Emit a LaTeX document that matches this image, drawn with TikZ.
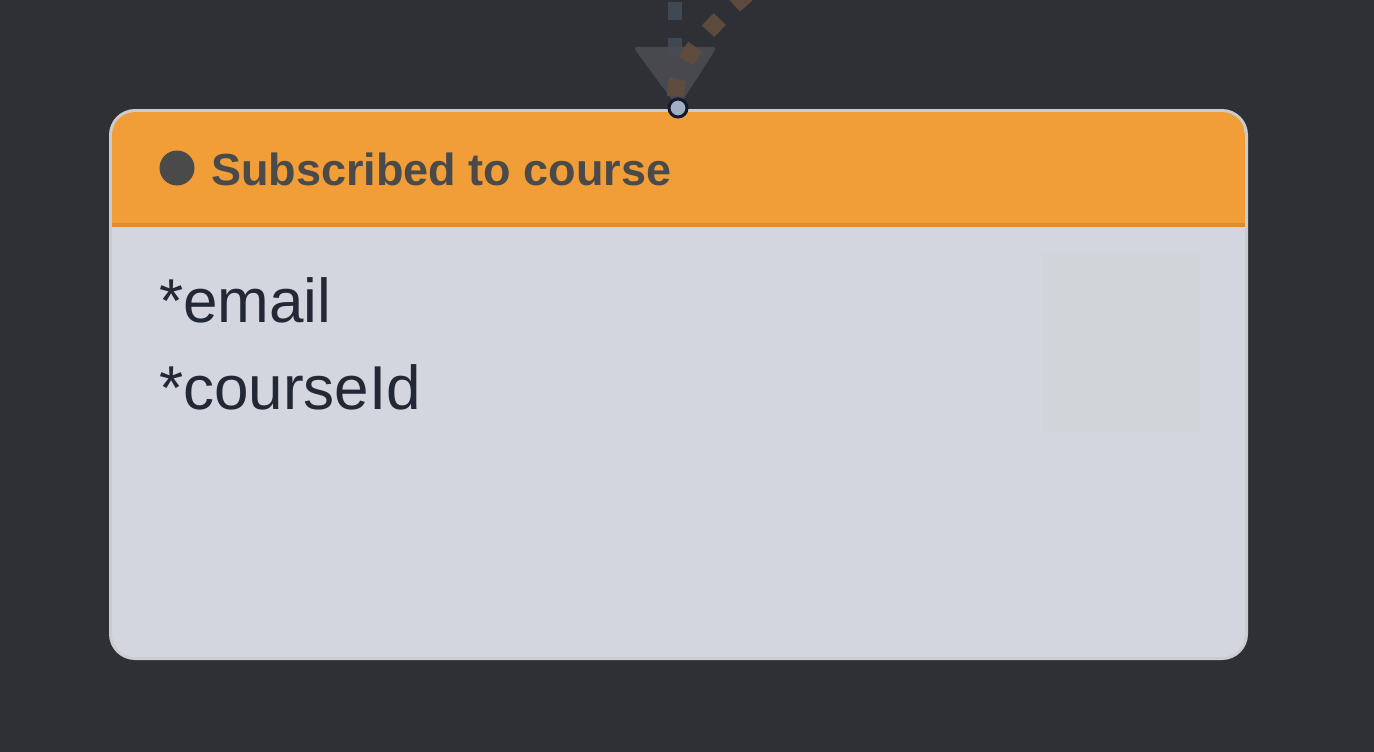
\documentclass[tikz,border=0pt]{standalone}
\usepackage{fontspec}
\setmainfont{Liberation Sans}
\definecolor{bg}{HTML}{2F3036}
\definecolor{boxborder}{HTML}{CBCCCE}
\definecolor{hdr}{HTML}{F19E38}
\definecolor{hdrline}{HTML}{DC8C34}
\definecolor{bodyc}{HTML}{D3D6DE}
\definecolor{faint}{HTML}{D1D4D9}
\definecolor{hdrtext}{HTML}{4A4A4A}
\definecolor{bodytext}{HTML}{222836}
\definecolor{dashgray}{HTML}{3F4853}
\definecolor{dashbrown}{HTML}{614E3E}
\definecolor{arrowc}{HTML}{4B4B52}
\definecolor{portfill}{HTML}{A3AEC4}
\definecolor{portline}{HTML}{141A2A}
\tikzset{
  field/.style={anchor=base west, inner sep=0pt, font=\fontsize{62}{62}\selectfont, text=bodytext},
}
\begin{document}
\begin{tikzpicture}[x=1pt,y=-1pt]
\useasboundingbox (0,0) rectangle (1374,752);
\fill[bg] (0,0) rectangle (1374,752);
% card
\fill[boxborder, rounded corners=26pt] (109,109) rectangle (1248,660);
\begin{scope}
\clip[rounded corners=23pt] (112,112) rectangle (1245,657);
\fill[bodyc] (112,112) rectangle (1245,657);
\fill[hdr] (112,112) rectangle (1245,224);
\fill[hdrline] (112,223) rectangle (1245,227);
\end{scope}
\fill[faint] (1042,253) rectangle (1200,432);
% header
\node[circle, fill=hdrtext, minimum size=35pt, inner sep=0pt] (dot) at (177,168) {};
\node[anchor=base west, inner sep=0pt, font=\fontsize{45}{45}\selectfont\bfseries, text=hdrtext] (title) at (211,185) {Subscribed to course};
% fields
\node[field] (f1) at (159,322) {*email};
\node[field] (f2) at (159,409) {*courseId};
% incoming connectors
\coordinate (port) at (678,108);
\coordinate (top1) at (675,2);
\coordinate (top2) at (747,-6);
\draw[dashgray, line width=14pt, dash pattern=on 18pt off 18pt] (top1) -- (675,60);
\fill[arrowc, opacity=0.9, rounded corners=4pt] (633,47) -- (717,47) -- (port) -- cycle;
\draw[dashbrown, line width=17pt, dash pattern=on 17pt off 20pt, opacity=0.9] (top2) .. controls (702,33) and (672,68) .. (676,100);
\node[circle, fill=portfill, draw=portline, line width=3pt, minimum size=18pt, inner sep=0pt] (p) at (port) {};
\end{tikzpicture}
\end{document}
